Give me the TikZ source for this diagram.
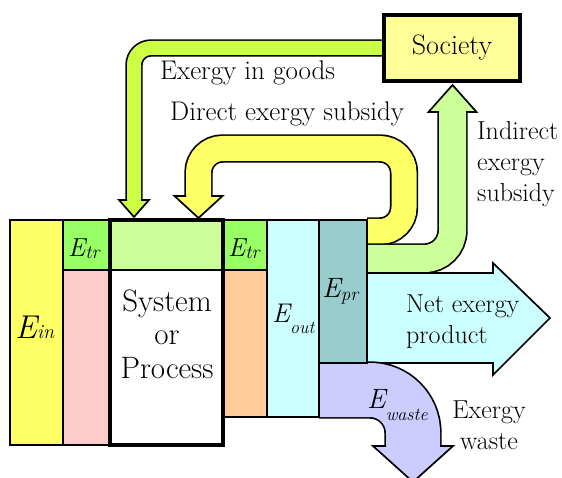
\documentclass[tikz,border=0pt]{standalone}
\usepackage{xcolor}
\usetikzlibrary{calc}
\usetikzlibrary{backgrounds}
\definecolor{inyellow}{HTML}{FFFF66}
\definecolor{trgreen}{HTML}{99FF66}
\definecolor{losspink}{HTML}{FFCCCC}
\definecolor{bandgreen}{HTML}{CCFF99}
\definecolor{lossorange}{HTML}{FFCC99}
\definecolor{outcyan}{HTML}{CCFFFF}
\definecolor{prteal}{HTML}{99CCCC}
\definecolor{wastelilac}{HTML}{CCCCFF}
\definecolor{goodsgreen}{HTML}{CCFF44}
\definecolor{societyyellow}{HTML}{FFFF99}
\tikzset{
  column/.style = {draw, line width=1.7pt}
}
\tikzset{
  flow/.style = {line width=1.7pt, double=#1}
}
\tikzset{
  every node/.style = {inner sep=0pt, font=\fontsize{26}{31}\selectfont}
}
% arrow head: colour, centre x, base y, half shaft, half head, tip y
\newcommand{\flowhead}[6]{
  \fill[#1] ({#2-#5},#3) -- (#2,#6) -- ({#2+#5},#3) -- cycle;
  \fill[#1] ({#2-#4},{#3-1}) rectangle ({#2+#4},#3);
  \draw[line width=1.7pt, line join=miter]
    ({#2-#4},#3) -- ({#2-#5},#3) -- (#2,#6) -- ({#2+#5},#3) -- ({#2+#4},#3);
}
% E with a lowered subscript: E size, subscript size, drop, subscript
\newcommand{\elabel}[4]{%
  {\fontsize{#1}{#1}\selectfont\itshape E\raisebox{-#3pt}{\fontsize{#2}{#2}\selectfont #4}}}

\begin{document}
\begin{tikzpicture}[x=1pt, y=-1pt]
  \useasboundingbox (0,0) rectangle (562,478);

  % Society
  \node[draw, line width=4pt, fill=societyyellow, minimum width=136pt,
        minimum height=66pt, font=\fontsize{28}{31}\selectfont] (soc) at (452,48) {Society};

  % Flows
  \begin{pgfonlayer}{background}
  \draw[flow=goodsgreen, double distance=14pt, rounded corners=17pt]
    (soc.center) -- (134,48) -- (134,200.5);
  \flowhead{goodsgreen}{134}{200}{7}{15}{217}

  \draw[flow=inyellow, double distance=25pt, rounded corners=24pt]
    (367,231.5) -- (404,231.5) -- (404,148.5) -- (198.5,148.5) -- (198.5,196.5);
  \flowhead{inyellow}{198.5}{196}{12.5}{24}{218}

  \draw[flow=bandgreen, double distance=27pt, rounded corners=28pt]
    (367,258.5) -- (452.5,258.5) -- (452.5,111.5);
  \flowhead{bandgreen}{452.5}{112}{13.5}{24}{85}

  \filldraw[column, fill=outcyan, line join=miter]
    (367,273) -- (493,273) -- (493,263) -- (550,318) -- (493,375)
    -- (493,363) -- (367,363) -- cycle;

  \draw[flow=wastelilac, double distance=54pt, rounded corners=43pt]
    (319,390) -- (413,390) -- (413,446.5);
  \flowhead{wastelilac}{413}{446}{27}{40}{482}
  \end{pgfonlayer}

  % Columns
  \filldraw[column, fill=inyellow] (10,220) rectangle (63,445);
  \filldraw[column, fill=trgreen] (63,220) rectangle (110,270);
  \filldraw[column, fill=losspink] (63,270) rectangle (110,445);
  \filldraw[column, fill=bandgreen] (110,220) rectangle (223,270);
  \filldraw[column, fill=trgreen] (223,220) rectangle (267,270);
  \filldraw[column, fill=lossorange] (223,270) rectangle (267,417);
  \filldraw[column, fill=outcyan] (267,220) rectangle (319,417);
  \filldraw[column, fill=prteal] (319,220) rectangle (367,363);
  \draw[line width=4pt] (110,220) rectangle (223,445);

  % Labels
  \node[anchor=base west] (ein) at (15,338) {\elabel{33}{20}{0}{in}};
  \node[anchor=base west] (etrl) at (68,257) {\elabel{26}{19}{2}{tr}};
  \node[anchor=base west] (etrr) at (228,257) {\elabel{26}{19}{2}{tr}};
  \node[anchor=base west] (eout) at (272,323) {\elabel{27}{18}{10}{out}};
  \node[anchor=base west] (epr) at (322,298) {\elabel{28}{19}{3}{pr}};
  \node[anchor=base west] (ewaste) at (367,408) {\elabel{28}{18}{12}{waste}};

  \node[align=center, font=\fontsize{31}{33.5}\selectfont] (sys) at (167,334)
    {System\\or\\Process};
  \node[align=left, anchor=west] (net) at (406,322) {Net exergy\\product};
  \node[align=center] (waste) at (489,425) {Exergy\\waste};
  \node[align=left, anchor=west] (indirect) at (477,164) {Indirect\\exergy\\subsidy};
  \node[anchor=base west, font=\fontsize{27}{31}\selectfont] (goods) at (160,80) {Exergy in goods};
  \node[anchor=base west, font=\fontsize{27}{31}\selectfont] (direct) at (170,121) {Direct exergy subsidy};
\end{tikzpicture}
\end{document}
